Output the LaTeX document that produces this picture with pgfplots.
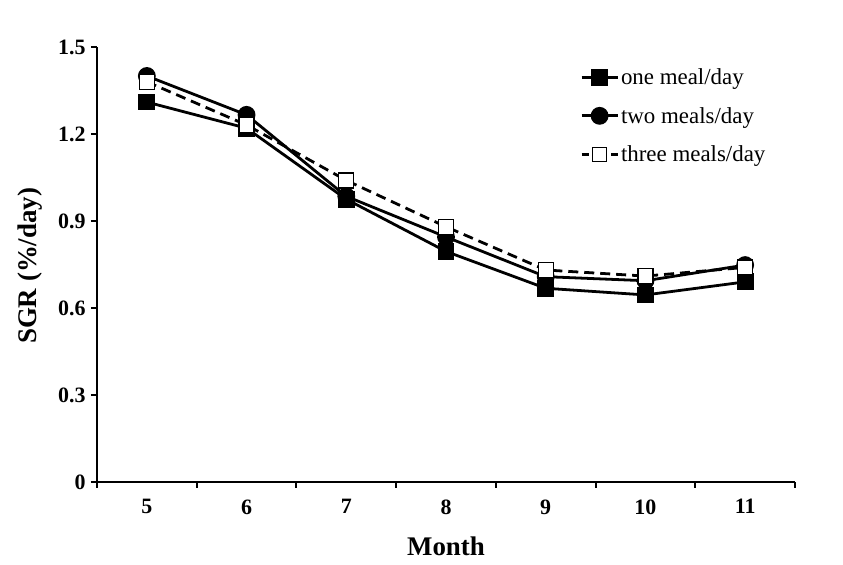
\documentclass[border=0pt]{standalone}
\usepackage{pgfplots}
\pgfplotsset{compat=1.18}
\usepackage{fontspec}
\setmainfont{Liberation Serif}
\begin{document}
\begin{tikzpicture}[x=1bp,y=1bp]
\useasboundingbox (0,0) rectangle (843,565);
\begin{axis}[
  at={(97bp,83bp)}, anchor=south west,
  scale only axis, width=698bp, height=435bp,
  xmin=4.5, xmax=11.5, ymin=0, ymax=1.5,
  axis lines=left, axis line style={line width=2pt,-},
  xtick={5,6,7,8,9,10,11},
  xticklabels={5,6,7,8,9,10,11},
  minor xtick={4.5,5.5,6.5,7.5,8.5,9.5,10.5,11.5},
  major x tick style={draw=none},
  minor tick length=6bp, major tick length=6bp,
  tick align=outside,
  tick style={line width=2pt,black},
  ytick={0,0.3,0.6,0.9,1.2,1.5},
  yticklabels={0,0.3,0.6,0.9,1.2,1.5},
  tick label style={font=\bfseries\fontsize{22}{22}\selectfont},
  xticklabel style={yshift=-8bp},
  yticklabel style={xshift=-2bp},
  xlabel={Month}, ylabel={SGR (\%/day)},
  label style={font=\bfseries\fontsize{27}{27}\selectfont},
  xlabel style={at={(axis description cs:0.5,-0.147)},anchor=center},
  ylabel style={at={(axis description cs:-0.096,0.497)},anchor=center},
  legend style={draw=none, fill=none, at={(rel axis cs:0.692,0.955)}, anchor=north west,
    font=\fontsize{23}{23}\selectfont, row sep=17bp, inner sep=0pt,
    legend cell align=left},
  legend image code/.code={%
    \draw[#1,mark=none] (0bp,0bp) -- (18bp,0bp);
    \draw[#1,mark=none] (36bp,0bp) -- (18bp,0bp);
    \draw[#1,only marks] plot coordinates {(18bp,0bp)};},
]
\addplot[black, line width=2.8pt, mark=square*, mark size=7bp, mark options={solid,fill=black}]
  coordinates {(5,1.31) (6,1.22) (7,0.975) (8,0.795) (9,0.668) (10,0.645) (11,0.69)};
\addlegendentry{one meal/day}
\addplot[black, line width=2.8pt, mark=*, mark size=7.5bp, mark options={solid,fill=black}]
  coordinates {(5,1.40) (6,1.266) (7,0.985) (8,0.845) (9,0.708) (10,0.694) (11,0.748)};
\addlegendentry{two meals/day}
\addplot[forget plot, black, line width=2.8pt, dash pattern=on 10bp off 6bp, mark=square*, mark size=7.5bp, mark options={solid,fill=white,line width=1.4pt}]
  coordinates {(5,1.38) (6,1.231) (7,1.04) (8,0.88) (9,0.731) (10,0.710) (11,0.740)};
\addlegendimage{black, line width=2.8pt, dash pattern=on 7bp off 11bp, mark=square*, mark size=7bp, mark options={solid,fill=white,line width=1.4pt}}
\addlegendentry{three meals/day}
\end{axis}
\end{tikzpicture}
\end{document}
